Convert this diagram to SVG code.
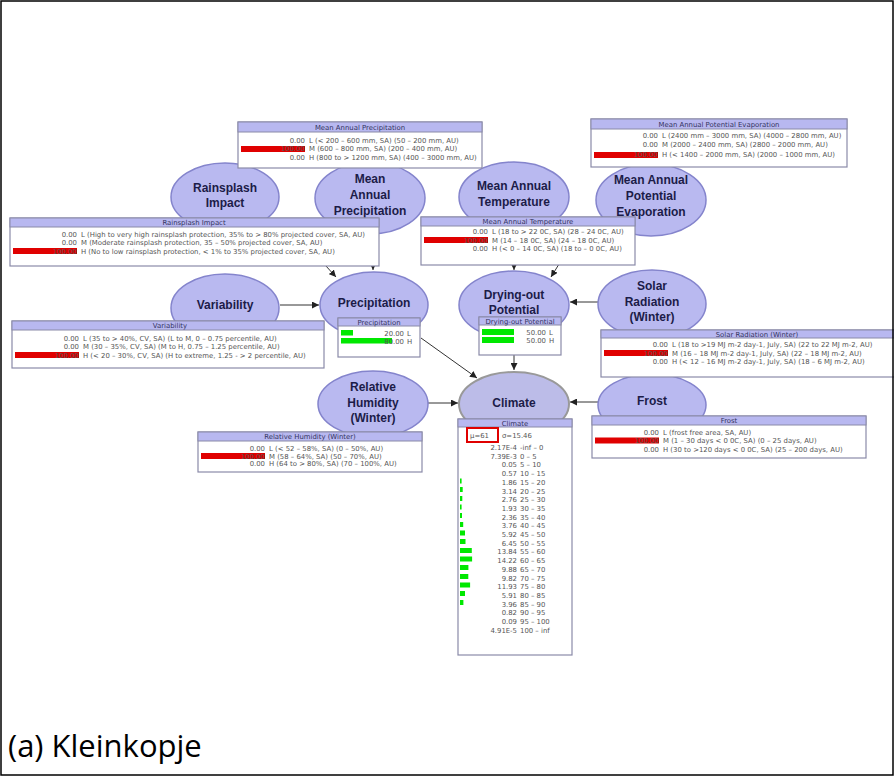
<svg xmlns="http://www.w3.org/2000/svg" width="895" height="777" viewBox="0 0 895 777">
<defs>
<marker id="ah" viewBox="0 0 10 10" refX="10" refY="5" markerWidth="7" markerHeight="7" orient="auto" markerUnits="userSpaceOnUse"><path d="M0,0 L10,5 L0,10 z" fill="#222"/></marker>
<style>
.nd{fill:#b9b9f0;stroke:#8484cc;stroke-width:1.5}
.lb{font-family:"Liberation Sans",Arial,sans-serif;font-size:12px;font-weight:bold;fill:#1c1c48;text-anchor:middle}
.tb{fill:#fff;stroke:#8a8aa8;stroke-width:1.2}
.th{fill:#b8b8f0;stroke:#8a8aa8;stroke-width:1}
.tt{font-family:"DejaVu Sans",sans-serif;font-size:6.9px;fill:#333360;text-anchor:middle}
.tv{font-family:"DejaVu Sans",sans-serif;font-size:6.9px;fill:#555;text-anchor:end}
.tl{font-family:"DejaVu Sans",sans-serif;font-size:6.9px;fill:#555}
.rb{fill:#e00000}
.gb{fill:#00e800}
.cn{stroke:#333;stroke-width:1;fill:none;marker-end:url(#ah)}
</style>
</defs>
<rect x="0" y="0" width="895" height="777" fill="#fff"/>

<g id="connectors">
<line class="cn" x1="284" y1="220" x2="336" y2="277"/>
<line class="cn" x1="373" y1="234" x2="373" y2="270"/>
<line class="cn" x1="514" y1="232" x2="514" y2="270"/>
<line class="cn" x1="587" y1="219" x2="551" y2="277"/>
<line class="cn" x1="280" y1="305" x2="319" y2="305"/>
<line class="cn" x1="598" y1="302" x2="570" y2="302"/>
<line class="cn" x1="421" y1="338" x2="477" y2="378"/>
<line class="cn" x1="514" y1="338" x2="514" y2="370"/>
<line class="cn" x1="428" y1="403" x2="458" y2="403"/>
<line class="cn" x1="598" y1="402" x2="570" y2="402"/>
</g>

<g id="node-mape">
<ellipse class="nd" cx="651" cy="200" rx="55" ry="36"/>
<text class="lb" x="651" y="184">Mean Annual</text>
<text class="lb" x="651" y="200">Potential</text>
<text class="lb" x="651" y="216">Evaporation</text>
<rect class="tb" x="591" y="119" width="256" height="48"/>
<rect class="th" x="591" y="119" width="256" height="10"/>
<text class="tt" x="719" y="127">Mean Annual Potential Evaporation</text>
<text class="tv" x="658" y="138">0.00</text><text class="tl" x="662" y="138">L (2400 mm – 3000 mm, SA) (4000 – 2800 mm, AU)</text>
<text class="tv" x="658" y="147">0.00</text><text class="tl" x="662" y="147">M (2000 – 2400 mm, SA) (2800 – 2000 mm, AU)</text>
<rect class="rb" x="594" y="152" width="64" height="6"/>
<text class="tv" x="658" y="157">100.00</text><text class="tl" x="662" y="157">H (&lt; 1400 – 2000 mm, SA) (2000 – 1000 mm, AU)</text>
</g>

<g id="node-mat">
<ellipse class="nd" cx="514" cy="197" rx="55" ry="35"/>
<text class="lb" x="514" y="190">Mean Annual</text>
<text class="lb" x="514" y="206">Temperature</text>
<rect class="tb" x="421" y="217" width="214" height="48"/>
<rect class="th" x="421" y="217" width="214" height="9"/>
<text class="tt" x="528" y="224">Mean Annual Temperature</text>
<text class="tv" x="488" y="234">0.00</text><text class="tl" x="492" y="234">L (18 to &gt; 22 0C, SA) (28 – 24 0C, AU)</text>
<rect class="rb" x="424" y="237" width="64" height="6"/>
<text class="tv" x="488" y="242.5">100.00</text><text class="tl" x="492" y="242.5">M (14 – 18 0C, SA) (24 – 18 0C, AU)</text>
<text class="tv" x="488" y="251">0.00</text><text class="tl" x="492" y="251">H (&lt; 0 – 14 0C, SA) (18 to – 0 0C, AU)</text>
</g>

<g id="node-rainsplash">
<ellipse class="nd" cx="225" cy="197" rx="54" ry="34"/>
<text class="lb" x="225" y="192">Rainsplash</text>
<text class="lb" x="225" y="207">Impact</text>
</g>

<g id="node-map">
<ellipse class="nd" cx="370" cy="198" rx="55" ry="36"/>
<text class="lb" x="370" y="183">Mean</text>
<text class="lb" x="370" y="199">Annual</text>
<text class="lb" x="370" y="215">Precipitation</text>
<rect class="tb" x="238" y="122" width="244" height="46"/>
<rect class="th" x="238" y="122" width="244" height="10"/>
<text class="tt" x="360" y="130">Mean Annual Precipitation</text>
<text class="tv" x="305" y="143">0.00</text><text class="tl" x="309" y="143">L (&lt; 200 – 600 mm, SA) (50 – 200 mm, AU)</text>
<rect class="rb" x="241" y="146" width="64" height="6"/>
<text class="tv" x="305" y="151">100.00</text><text class="tl" x="309" y="151">M (600 – 800 mm, SA) (200 – 400 mm, AU)</text>
<text class="tv" x="305" y="159.5">0.00</text><text class="tl" x="309" y="159.5">H (800 to &gt; 1200 mm, SA) (400 – 3000 mm, AU)</text>
</g>

<g id="table-rainsplash">
<rect class="tb" x="10" y="218" width="369" height="48"/>
<rect class="th" x="10" y="218" width="369" height="9"/>
<text class="tt" x="194" y="225">Rainsplash Impact</text>
<text class="tv" x="77" y="236.5">0.00</text><text class="tl" x="81" y="236.5">L (High to very high rainsplash protection, 35% to &gt; 80% projected cover, SA, AU)</text>
<text class="tv" x="77" y="245">0.00</text><text class="tl" x="81" y="245">M (Moderate rainsplash protection, 35 – 50% projected cover, SA, AU)</text>
<rect class="rb" x="13" y="248" width="64" height="6"/>
<text class="tv" x="77" y="253.5">100.00</text><text class="tl" x="81" y="253.5">H (No to low rainsplash protection, &lt; 1% to 35% projected cover, SA, AU)</text>
</g>

<g id="node-variability">
<ellipse class="nd" cx="225" cy="308" rx="54" ry="34"/>
<text class="lb" x="225" y="309">Variability</text>
<rect class="tb" x="12" y="321" width="312" height="47"/>
<rect class="th" x="12" y="321" width="312" height="9"/>
<text class="tt" x="170" y="328">Variability</text>
<text class="tv" x="79" y="340.5">0.00</text><text class="tl" x="83" y="340.5">L (35 to &gt; 40%, CV, SA) (L to M, 0 – 0.75 percentile, AU)</text>
<text class="tv" x="79" y="349">0.00</text><text class="tl" x="83" y="349">M (30 – 35%, CV, SA) (M to H, 0.75 – 1.25 percentile, AU)</text>
<rect class="rb" x="15" y="352" width="64" height="6"/>
<text class="tv" x="79" y="357.5">100.00</text><text class="tl" x="83" y="357.5">H (&lt; 20 – 30%, CV, SA) (H to extreme, 1.25 - &gt; 2 percentile, AU)</text>
</g>

<g id="node-precipitation">
<ellipse class="nd" cx="374" cy="305" rx="54" ry="33"/>
<text class="lb" x="374" y="307">Precipitation</text>
<rect class="tb" x="338" y="318" width="82" height="39"/>
<rect class="th" x="338" y="318" width="82" height="8"/>
<text class="tt" x="379" y="324.5">Precipitation</text>
<rect class="gb" x="341" y="330" width="12" height="5.5"/>
<text class="tv" x="404" y="335.5">20.00</text><text class="tl" x="407" y="335.5">L</text>
<rect class="gb" x="341" y="338" width="51" height="5.5"/>
<text class="tv" x="404" y="343.5">80.00</text><text class="tl" x="407" y="343.5">H</text>
</g>

<g id="node-drying">
<ellipse class="nd" cx="514" cy="305" rx="55" ry="34"/>
<text class="lb" x="514" y="299">Drying-out</text>
<text class="lb" x="514" y="314">Potential</text>
<rect class="tb" x="479" y="317" width="82" height="38"/>
<rect class="th" x="479" y="317" width="82" height="8"/>
<text class="tt" x="520" y="323.5">Drying-out Potential</text>
<rect class="gb" x="482" y="329" width="32" height="6"/>
<text class="tv" x="546" y="334.5">50.00</text><text class="tl" x="549" y="334.5">L</text>
<rect class="gb" x="482" y="337" width="32" height="6"/>
<text class="tv" x="546" y="342.5">50.00</text><text class="tl" x="549" y="342.5">H</text>
</g>

<g id="node-frost">
<ellipse class="nd" cx="652" cy="405" rx="54" ry="31"/>
<text class="lb" x="652" y="405">Frost</text>
<rect class="tb" x="592" y="416" width="274" height="42"/>
<rect class="th" x="592" y="416" width="274" height="9"/>
<text class="tt" x="729" y="423">Frost</text>
<text class="tv" x="659" y="434.5">0.00</text><text class="tl" x="663" y="434.5">L (frost free area, SA, AU)</text>
<rect class="rb" x="595" y="437.5" width="64" height="6"/>
<text class="tv" x="659" y="443">100.00</text><text class="tl" x="663" y="443">M (1 – 30 days &lt; 0 0C, SA) (0 – 25 days, AU)</text>
<text class="tv" x="659" y="451.5">0.00</text><text class="tl" x="663" y="451.5">H (30 to &gt;120 days &lt; 0 0C, SA) (25 – 200 days, AU)</text>
</g>

<g id="node-solar">
<ellipse class="nd" cx="652" cy="304" rx="54" ry="34"/>
<text class="lb" x="652" y="290">Solar</text>
<text class="lb" x="652" y="306">Radiation</text>
<text class="lb" x="652" y="321">(Winter)</text>
<rect class="tb" x="601" y="330" width="300" height="47"/>
<rect class="th" x="601" y="330" width="300" height="8"/>
<text class="tt" x="757" y="336.5">Solar Radiation (Winter)</text>
<text class="tv" x="668" y="347">0.00</text><text class="tl" x="672" y="347">L (18 to &gt;19 MJ m-2 day-1, July, SA) (22 to 22 MJ m-2, AU)</text>
<rect class="rb" x="604" y="350" width="64" height="6"/>
<text class="tv" x="668" y="355.5">100.00</text><text class="tl" x="672" y="355.5">M (16 – 18 MJ m-2 day-1, July, SA) (22 – 18 MJ m-2, AU)</text>
<text class="tv" x="668" y="364">0.00</text><text class="tl" x="672" y="364">H (&lt; 12 – 16 MJ m-2 day-1, July, SA) (18 – 6 MJ m-2, AU)</text>
</g>

<g id="node-humidity">
<ellipse class="nd" cx="373" cy="404" rx="55" ry="33"/>
<text class="lb" x="373" y="391">Relative</text>
<text class="lb" x="373" y="407">Humidity</text>
<text class="lb" x="373" y="422">(Winter)</text>
<rect class="tb" x="198" y="432" width="224" height="40"/>
<rect class="th" x="198" y="432" width="224" height="9"/>
<text class="tt" x="310" y="439">Relative Humidity (Winter)</text>
<text class="tv" x="265" y="450.5">0.00</text><text class="tl" x="269" y="450.5">L (&lt; 52 – 58%, SA) (0 – 50%, AU)</text>
<rect class="rb" x="201" y="453" width="64" height="6"/>
<text class="tv" x="265" y="458.5">100.00</text><text class="tl" x="269" y="458.5">M (58 – 64%, SA) (50 – 70%, AU)</text>
<text class="tv" x="265" y="466">0.00</text><text class="tl" x="269" y="466">H (64 to &gt; 80%, SA) (70 – 100%, AU)</text>
</g>

<g id="node-climate">
<ellipse cx="514" cy="404" rx="55" ry="32" fill="#bcbce8" stroke="#999" stroke-width="2"/>
<text class="lb" x="514" y="407">Climate</text>
<rect class="tb" x="458" y="419" width="114" height="236"/>
<rect class="th" x="458" y="419" width="114" height="8"/>
<text class="tt" x="515" y="425.5">Climate</text>
<rect x="467" y="428" width="31" height="14" fill="none" stroke="#e00000" stroke-width="2"/>
<text class="tl" x="470" y="438">μ=61</text>
<text class="tl" x="502" y="438">σ=15.46</text>
<g>
<rect class="gb" x="460" y="478.5" width="1.6" height="5"/>
<rect class="gb" x="460" y="487" width="2.7" height="5"/>
<rect class="gb" x="460" y="496" width="2.3" height="5"/>
<rect class="gb" x="460" y="504.5" width="1.6" height="5"/>
<rect class="gb" x="460" y="513" width="2" height="5"/>
<rect class="gb" x="460" y="522" width="3.2" height="5"/>
<rect class="gb" x="460" y="530.5" width="5" height="5"/>
<rect class="gb" x="460" y="539" width="5.5" height="5"/>
<rect class="gb" x="460" y="548" width="11.8" height="5"/>
<rect class="gb" x="460" y="556.5" width="12.1" height="5"/>
<rect class="gb" x="460" y="565" width="8.4" height="5"/>
<rect class="gb" x="460" y="574" width="8.3" height="5"/>
<rect class="gb" x="460" y="582.5" width="10.1" height="5"/>
<rect class="gb" x="460" y="591" width="5" height="5"/>
<rect class="gb" x="460" y="600" width="3.4" height="5"/>
</g>
<text class="tv" x="517" y="450">2.17E-4</text><text class="tl" x="520" y="450">-inf – 0</text>
<text class="tv" x="517" y="458.7">7.39E-3</text><text class="tl" x="520" y="458.7">0 – 5</text>
<text class="tv" x="517" y="467.4">0.05</text><text class="tl" x="520" y="467.4">5 – 10</text>
<text class="tv" x="517" y="476.1">0.57</text><text class="tl" x="520" y="476.1">10 – 15</text>
<text class="tv" x="517" y="484.8">1.86</text><text class="tl" x="520" y="484.8">15 – 20</text>
<text class="tv" x="517" y="493.5">3.14</text><text class="tl" x="520" y="493.5">20 – 25</text>
<text class="tv" x="517" y="502.2">2.76</text><text class="tl" x="520" y="502.2">25 – 30</text>
<text class="tv" x="517" y="510.9">1.93</text><text class="tl" x="520" y="510.9">30 – 35</text>
<text class="tv" x="517" y="519.6">2.36</text><text class="tl" x="520" y="519.6">35 – 40</text>
<text class="tv" x="517" y="528.3">3.76</text><text class="tl" x="520" y="528.3">40 – 45</text>
<text class="tv" x="517" y="537">5.92</text><text class="tl" x="520" y="537">45 – 50</text>
<text class="tv" x="517" y="545.7">6.45</text><text class="tl" x="520" y="545.7">50 – 55</text>
<text class="tv" x="517" y="554.4">13.84</text><text class="tl" x="520" y="554.4">55 – 60</text>
<text class="tv" x="517" y="563.1">14.22</text><text class="tl" x="520" y="563.1">60 – 65</text>
<text class="tv" x="517" y="571.8">9.88</text><text class="tl" x="520" y="571.8">65 – 70</text>
<text class="tv" x="517" y="580.5">9.82</text><text class="tl" x="520" y="580.5">70 – 75</text>
<text class="tv" x="517" y="589.2">11.93</text><text class="tl" x="520" y="589.2">75 – 80</text>
<text class="tv" x="517" y="597.9">5.91</text><text class="tl" x="520" y="597.9">80 – 85</text>
<text class="tv" x="517" y="606.6">3.96</text><text class="tl" x="520" y="606.6">85 – 90</text>
<text class="tv" x="517" y="615.3">0.82</text><text class="tl" x="520" y="615.3">90 – 95</text>
<text class="tv" x="517" y="624">0.09</text><text class="tl" x="520" y="624">95 – 100</text>
<text class="tv" x="517" y="632.7">4.91E-5</text><text class="tl" x="520" y="632.7">100 – inf</text>
</g>

<text x="8" y="757" font-family="'Open Sans','Liberation Sans',sans-serif" font-size="31" fill="#000">(a) Kleinkopje</text>
<rect x="1" y="1" width="892" height="774" fill="none" stroke="#000" stroke-width="1.5"/>
<rect x="894" y="0" width="1" height="777" fill="#fff"/>
</svg>
